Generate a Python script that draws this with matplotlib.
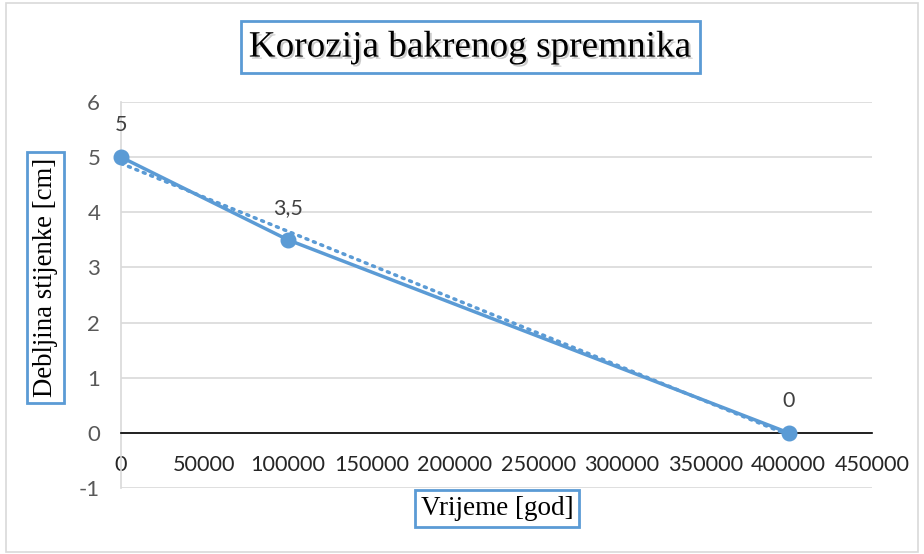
import numpy as np
import matplotlib.pyplot as plt
import matplotlib.patheffects as pe
from matplotlib.patches import Rectangle

# Corrosion of copper container: wall thickness over time
vrijeme = [0, 100000, 400000]
debljina = [5, 3.5, 0]
oznake = ["5", "3,5", "0"]

x_ticks = [0, 50000, 100000, 150000, 200000, 250000, 300000, 350000, 400000, 450000]
y_ticks = [-1, 0, 1, 2, 3, 4, 5, 6]

BLUE = "#5B9BD5"
GRID = "#D9D9D9"
SERIF = "Liberation Serif"
SANS = "Lato"

fig = plt.figure(figsize=(9.24, 5.54), dpi=100)
fig.patches.append(Rectangle((0.006, 0.004), 0.988, 0.99, transform=fig.transFigure,
                             fill=False, edgecolor=GRID, linewidth=1.2))
ax = fig.add_axes([0.131, 0.119, 0.813, 0.697])

# linear trendline (least squares, as Excel does)
k, n = np.polyfit(vrijeme, debljina, 1)
xt = np.array([min(vrijeme), max(vrijeme)])
ax.plot(xt, k * xt + n, linestyle=(0, (0.6, 1.7)), color=BLUE, linewidth=2.5,
        dash_capstyle="round", zorder=3)

ax.plot(vrijeme, debljina, color=BLUE, linewidth=2.5, marker="o", markersize=10.5,
        zorder=4, clip_on=False)

for x, y, t in zip(vrijeme, debljina, oznake):
    ax.annotate(t, (x, y), xytext=(0, 23), textcoords="offset points",
                ha="center", va="center", fontsize=15.5, color="#404040", family=SANS)

ax.set_xlim(0, 450000)
ax.set_ylim(-1, 6)
ax.set_xticks(x_ticks)
ax.set_xticklabels([str(v) for v in x_ticks])
ax.set_yticks(y_ticks)
ax.set_yticklabels([str(v) for v in y_ticks])

ax.grid(axis="y", color=GRID, linewidth=1.2)
ax.set_axisbelow(True)
ax.spines["top"].set_visible(False)
ax.spines["right"].set_visible(False)
ax.spines["left"].set_color(GRID)
ax.spines["left"].set_linewidth(1.2)
ax.spines["bottom"].set_position(("data", 0))
ax.spines["bottom"].set_color("black")
ax.spines["bottom"].set_linewidth(1.2)

ax.tick_params(axis="x", length=0, pad=16, labelsize=15.6, labelcolor="#262626")
ax.tick_params(axis="y", length=0, pad=15, labelsize=16, labelcolor="#595959")
for lab in ax.get_xticklabels() + ax.get_yticklabels():
    lab.set_family(SANS)

box = dict(boxstyle="square,pad=0.22", facecolor="white", edgecolor=BLUE, linewidth=2)

fig.text(0.509, 0.915, "Korozija bakrenog spremnika", ha="center", va="center",
         fontsize=26.8, family=SERIF, color="black", bbox=box,
         path_effects=[pe.withSimplePatchShadow(offset=(1.5, -1.5), shadow_rgbFace="#999999", alpha=0.5)])
fig.text(0.049, 0.499, "Debljina stijenke [cm]", ha="center", va="center", rotation=90,
         fontsize=19.3, family=SERIF, color="black", bbox=box)
fig.text(0.538, 0.082, "Vrijeme [god]", ha="center", va="center",
         fontsize=19.5, family=SERIF, color="black", bbox=box)

fig.savefig("out.png", dpi=100)
